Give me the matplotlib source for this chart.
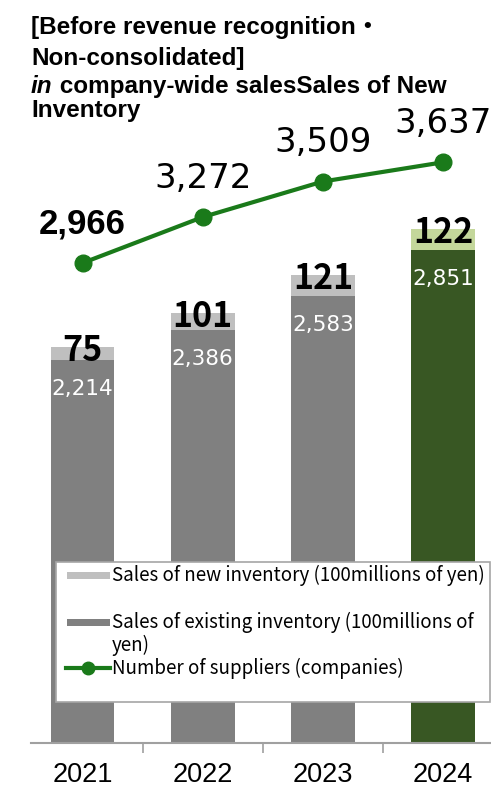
import numpy as np
import matplotlib.pyplot as plt
from matplotlib.patches import Rectangle
from matplotlib.lines import Line2D

# data
years = ['2021', '2022', '2023', '2024']
existing = [2214, 2386, 2583, 2851]
new_inv = [75, 101, 121, 122]
suppliers = [2966, 3272, 3509, 3637]

existing_colors = ['#808080', '#808080', '#808080', '#385723']
new_colors = ['#bfbfbf', '#bfbfbf', '#bfbfbf', '#c4d79b']
line_color = '#1a7a1a'
gothic = ['Noto Sans CJK JP', 'DejaVu Sans']
arial = ['Liberation Sans', 'Noto Sans CJK JP']

W, H = 491, 791
fig = plt.figure(figsize=(W / 100, H / 100), dpi=100)
ax = fig.add_axes([31 / W, 48 / H, 460 / W, 653 / H])
ax2 = ax.twinx()

x = np.arange(len(years))

# stacked bars
ax.bar(x, existing, width=0.53, color=existing_colors)
ax.bar(x, new_inv, width=0.53, bottom=existing, color=new_colors)
ax.set_xlim(-0.43, 3.40)
ax.set_ylim(0, 3775)

for xi, e, n in zip(x, existing, new_inv):
    ax.annotate(str(n), (xi, e + n), xytext=(0, -10), textcoords='offset points',
                ha='center', va='baseline', fontsize=24.5, fontweight='bold',
                family=gothic, color='black')
    ax.annotate(f'{e:,}', (xi, e), xytext=(0, -25), textcoords='offset points',
                ha='center', va='baseline', fontsize=15.5, family='DejaVu Sans',
                color='white')

# suppliers line
ax2.plot(x, suppliers, color=line_color, lw=3, marker='o', ms=12)
ax2.set_ylim(-234, 4119)
for i, (xi, s) in enumerate(zip(x, suppliers)):
    if i == 0:
        ax2.annotate(f'{s:,}', (xi, s), xytext=(0, 21), textcoords='offset points',
                     ha='center', va='baseline', fontsize=25, fontweight='bold',
                     family=arial)
    else:
        ax2.annotate(f'{s:,}', (xi, s), xytext=(0, 21), textcoords='offset points',
                     ha='center', va='baseline', fontsize=24.5, family='DejaVu Sans')

# axes styling
for a in (ax, ax2):
    for side in ('top', 'left', 'right', 'bottom'):
        a.spines[side].set_visible(False)
    a.set_yticks([])
ax.spines['bottom'].set_visible(True)
ax.spines['bottom'].set_color('#a0a0a0')
ax.spines['bottom'].set_linewidth(1.5)
ax.set_xticks(x)
ax.set_xticklabels(years, fontsize=19.5, family='Liberation Sans')
ax.tick_params(axis='x', which='major', length=0, pad=14)
ax.set_xticks([0.5, 1.5, 2.5], minor=True)
ax.tick_params(axis='x', which='minor', length=7, width=1.2, color='#a0a0a0')

# overlay in pixel coordinates for title and legend
ov = fig.add_axes([0, 0, 1, 1], zorder=10)
ov.set_xlim(0, W)
ov.set_ylim(H, 0)
ov.axis('off')
ov.patch.set_alpha(0)

title_kw = dict(fontsize=17.5, fontweight='bold', family=arial, va='baseline')
ov.text(31, 34, '[Before revenue recognition\u30fb', **title_kw)
ov.text(31, 65, 'Non-consolidated]', **title_kw)
t_in = ov.text(31, 93, 'in', style='italic', **title_kw)
ov.annotate(' company-wide salesSales of New', xy=(1, 0), xycoords=t_in,
            va='bottom', ha='left', fontsize=17.5, fontweight='bold', family=arial)
ov.text(31, 117, 'Inventory', **title_kw)

# legend box
ov.add_patch(Rectangle((56, 562), 434, 140, facecolor='white',
                       edgecolor='#a6a6a6', lw=1.2))
ov.add_patch(Rectangle((67, 572), 43, 7, facecolor='#bfbfbf', lw=0))
ov.add_patch(Rectangle((67, 619), 43, 7, facecolor='#808080', lw=0))
ov.add_line(Line2D([66, 110], [668, 668], color=line_color, lw=3))
ov.plot([88], [668], marker='o', color=line_color, ms=9)
leg_kw = dict(fontsize=13.5, family=gothic, va='center', ha='left')
ov.text(112, 575, 'Sales of new inventory (100millions of yen)', **leg_kw)
ov.text(112, 622, 'Sales of existing inventory (100millions of', **leg_kw)
ov.text(112, 645, 'yen)', **leg_kw)
ov.text(112, 668, 'Number of suppliers (companies)', **leg_kw)

fig.savefig('out.png', dpi=100)
